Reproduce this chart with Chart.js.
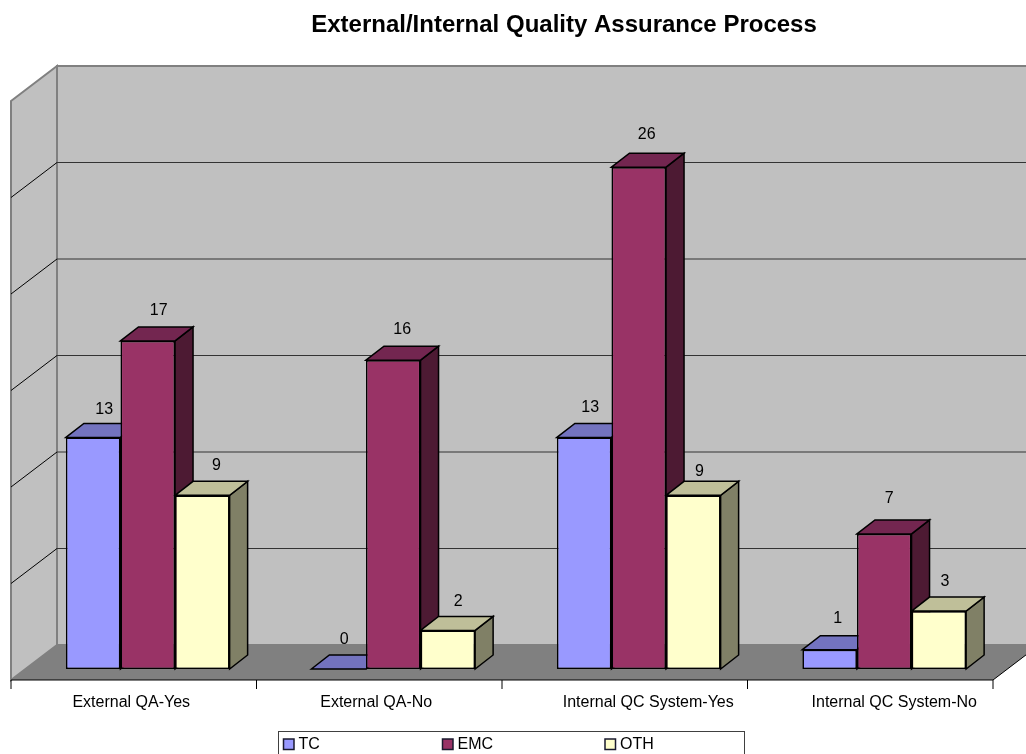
<!DOCTYPE html>
<html>
<head>
<meta charset="utf-8">
<title>External/Internal Quality Assurance Process</title>
<style>
  html, body { margin: 0; padding: 0; background: #fff; overflow: hidden; }
  canvas { display: block; }
</style>
<script src="https://cdn.jsdelivr.net/npm/chart.js@4"></script>
</head>
<body>
<canvas id="myChart" width="1026" height="754"></canvas>
<script>
'use strict';

var categories = ['External QA-Yes', 'External QA-No', 'Internal QC System-Yes', 'Internal QC System-No'];
var seriesNames = ['TC', 'EMC', 'OTH'];

// the two "13" columns are only 12 tall in the picture, so printed labels are kept apart
var tcValues = [12, 0, 12, 1];
var emcValues = [17, 16, 26, 7];
var othValues = [9, 2, 9, 3];
var tcLabels = ['13', '0', '13', '1'];
var emcLabels = ['17', '16', '26', '7'];
var othLabels = ['9', '2', '9', '3'];

var yTicks = { min: 0, max: 30, step: 5 };

var FONT = '"Liberation Sans", Arial, sans-serif';
var faceColors = ['#9999FF', '#993366', '#FFFFCC'];
var topColors = ['#7373BF', '#732650', '#BFBF99'];
var sideColors = ['#4D4D80', '#4D1A33', '#808066'];

function poly(ctx, pts, fill, stroke, lw) {
    ctx.beginPath();
    ctx.moveTo(pts[0][0], pts[0][1]);
    for (var i = 1; i < pts.length; i++) ctx.lineTo(pts[i][0], pts[i][1]);
    ctx.closePath();
    if (fill) { ctx.fillStyle = fill; ctx.fill(); }
    if (stroke) { ctx.strokeStyle = stroke; ctx.lineWidth = lw; ctx.stroke(); }
}

function line(ctx, x1, y1, x2, y2, color, lw) {
    ctx.beginPath();
    ctx.moveTo(x1, y1);
    ctx.lineTo(x2, y2);
    ctx.strokeStyle = color;
    ctx.lineWidth = lw;
    ctx.stroke();
}

// walls, floor and the sides of the columns go under the library's bars
var box3d = {
    id: 'box3d',
    afterLayout: function (chart) {
        // the title sits right of the canvas centre in the reference
        chart.titleBlock.left = 124;
        chart.titleBlock.right = 1004;
    },
    beforeDatasetsDraw: function (chart) {
        var ctx = chart.ctx, xs = chart.scales.x, ys = chart.scales.y;
        var left = xs.left - 14, right = xs.right - 14;
        var fy = ys.getPixelForValue(0) + 11;   // front edge of floor
        var dx = 46, dy = -35;                  // full depth of the box
        var topY = ys.getPixelForValue(yTicks.max) + 11;

        ctx.save();
        poly(ctx, [[left + dx, topY + dy], [right + dx, topY + dy], [right + dx, fy + dy], [left + dx, fy + dy]], '#C0C0C0', '#808080', 2);
        poly(ctx, [[left, topY], [left + dx, topY + dy], [left + dx, fy + dy], [left, fy]], '#C0C0C0', '#808080', 2);
        poly(ctx, [[left, fy], [left + dx, fy + dy], [right + dx, fy + dy], [right, fy]], '#808080');

        // grid lines from the y scale
        ys.ticks.forEach(function (t) {
            if (t.value === yTicks.min || t.value === yTicks.max) return;
            var y = ys.getPixelForValue(t.value) + 11;
            line(ctx, left, y, left + dx, y + dy, '#000', 1);
            line(ctx, left + dx, y + dy, right + dx, y + dy, '#333', 1.2);
        });

        line(ctx, left, fy, right, fy, '#000', 1.2);
        line(ctx, right, fy, right + dx, fy + dy, '#000', 1);
        var step = (right - left) / categories.length;
        for (var i = 0; i <= categories.length; i++) {
            line(ctx, left + i * step, fy, left + i * step, fy + 9, '#000', 1);
        }

        // tops and right hand sides, left to right so that later ones overlap
        var bd = 18, bh = -14;
        categories.forEach(function (c, i) {
            seriesNames.forEach(function (s, d) {
                var bar = chart.getDatasetMeta(d).data[i];
                var l = bar.x - bar.width / 2, r = bar.x + bar.width / 2, t = bar.y, b = bar.base;
                poly(ctx, [[r, t], [r + bd, t + bh], [r + bd, b + bh], [r, b]], sideColors[d], '#000', 1.5);
                poly(ctx, [[l, t], [l + bd, t + bh], [r + bd, t + bh], [r, t]], topColors[d], '#000', 1.5);
            });
        });
        ctx.restore();
    },
    afterDatasetsDraw: function (chart) {
        var ctx = chart.ctx, xs = chart.scales.x;
        var allLabels = [tcLabels, emcLabels, othLabels];
        // the printed values wander a little around their columns, [dx, dy] per series and category
        var labelNudge = [
            [[11, -27.5], [5.5, -29.5], [6, -29.5], [8, -31.5]],
            [[11, -30.5], [9, -30.5], [8, -32.5], [5, -35.5]],
            [[14, -29.5], [10.4, -28.5], [6, -23.5], [6, -29.5]]
        ];

        ctx.save();
        ctx.fillStyle = '#000';
        ctx.font = '16px ' + FONT;
        ctx.textAlign = 'center';
        ctx.textBaseline = 'middle';

        allLabels.forEach(function (labels, d) {
            labels.forEach(function (txt, i) {
                var bar = chart.getDatasetMeta(d).data[i];
                ctx.fillText(txt, bar.x + labelNudge[d][i][0], bar.y + labelNudge[d][i][1]);
            });
        });

        // category names are not evenly spaced in the reference
        var nudge = [-16.5, -17, 9.5, 10];
        categories.forEach(function (c, i) {
            ctx.fillText(c, xs.getPixelForValue(i) + nudge[i], 703);
        });

        // legend with fixed columns
        ctx.textAlign = 'left';
        ctx.strokeStyle = '#404040';
        ctx.lineWidth = 1;
        ctx.strokeRect(278.5, 731.5, 466, 40);
        var colX = [283.5, 442.5, 605];
        seriesNames.forEach(function (s, d) {
            ctx.fillStyle = faceColors[d];
            ctx.fillRect(colX[d], 739, 10.5, 10.5);
            ctx.strokeStyle = '#1a1a2e';
            ctx.lineWidth = 1.5;
            ctx.strokeRect(colX[d], 739, 10.5, 10.5);
            ctx.fillStyle = '#000';
            ctx.fillText(s, colX[d] + 15, 744.5);
        });
        ctx.restore();
    }
};

var ctx = document.getElementById('myChart').getContext('2d');
var myChart = new Chart(ctx, {
    type: 'bar',
    plugins: [box3d],
    data: {
        labels: categories,
        datasets: [
            { label: seriesNames[0], data: tcValues, backgroundColor: faceColors[0] },
            { label: seriesNames[1], data: emcValues, backgroundColor: faceColors[1] },
            { label: seriesNames[2], data: othValues, backgroundColor: faceColors[2] }
        ]
    },
    options: {
        responsive: false,
        animation: false,
        layout: { padding: { left: 25, right: 19, top: 0, bottom: 85 } },
        datasets: {
            bar: {
                categoryPercentage: 0.667,
                barPercentage: 1,
                borderColor: '#000',
                borderWidth: 1.6,
                borderSkipped: false
            }
        },
        scales: {
            x: { display: false },
            y: { display: false, min: yTicks.min, max: yTicks.max, ticks: { stepSize: yTicks.step } }
        },
        plugins: {
            legend: { display: false },
            tooltip: { enabled: false },
            title: {
                display: true,
                text: 'External/Internal Quality Assurance Process',
                color: '#000',
                font: { family: FONT, size: 24, weight: 'bold' },
                padding: { top: 10.6, bottom: 50.6 }
            }
        }
    }
});
</script>
</body>
</html>
